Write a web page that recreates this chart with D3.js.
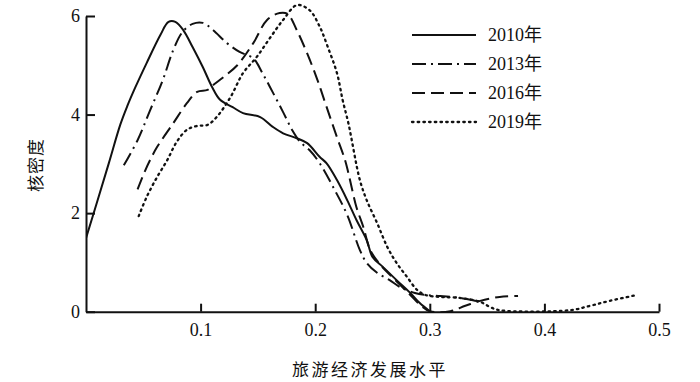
<!DOCTYPE html>
<html>
<head>
<meta charset="utf-8">
<script src="https://cdn.jsdelivr.net/npm/d3@7"></script>
<style>
html,body{margin:0;padding:0;background:#fff;}
svg{display:block;}
</style>
</head>
<body>
<svg id="chart" width="700" height="382"></svg>
<script>
// ---- data ----
const seriesNames = ["2010年", "2013年", "2016年", "2019年"];
const xTicks = [0.1, 0.2, 0.3, 0.4, 0.5];
const yTicks = [0, 2, 4, 6];
const xTitle = "旅游经济发展水平";
const yTitle = "核密度";

const s2010x = [0,0.010,0.020,0.030,0.036,0.043,0.053,0.065,0.072,0.078,0.085,0.093,0.102,0.110,0.117,0.128,0.137,0.152,0.163,0.172,0.184,0.193,0.204,0.210,0.219,0.228,0.236,0.245,0.250,0.259,0.271,0.283,0.291,0.300];
const s2010y = [1.49,2.25,3.02,3.80,4.17,4.55,5.05,5.62,5.88,5.88,5.71,5.37,4.96,4.56,4.30,4.15,4.03,3.95,3.75,3.62,3.52,3.42,3.14,3.01,2.67,2.26,1.86,1.45,1.11,0.91,0.64,0.38,0.18,0.01];

const s2013x = [0.033,0.045,0.056,0.067,0.076,0.084,0.093,0.102,0.111,0.123,0.134,0.146,0.154,0.163,0.172,0.180,0.187,0.195,0.204,0.217,0.228,0.239,0.245,0.254,0.265,0.274,0.287,0.296,0.309,0.326,0.344];
const s2013y = [2.97,3.48,4.09,4.70,5.30,5.67,5.84,5.86,5.71,5.45,5.27,5.14,4.84,4.45,4.05,3.68,3.44,3.28,3.01,2.47,1.96,1.25,0.99,0.79,0.64,0.50,0.38,0.34,0.32,0.28,0.20];

const s2016x = [0.045,0.051,0.056,0.062,0.076,0.088,0.097,0.106,0.111,0.120,0.132,0.146,0.158,0.169,0.176,0.184,0.193,0.202,0.210,0.219,0.226,0.229,0.236,0.242,0.248,0.257,0.270,0.283,0.291,0.300,0.318,0.331,0.344,0.361,0.377];
const s2016y = [2.48,2.83,3.08,3.34,3.82,4.23,4.46,4.50,4.60,4.76,5.00,5.45,5.92,6.06,6.04,5.71,5.24,4.70,4.15,3.54,3.08,2.81,2.12,1.72,1.25,0.95,0.64,0.34,0.15,0.01,0.01,0.12,0.22,0.30,0.32];

const s2019x = [0.046,0.053,0.062,0.071,0.079,0.088,0.097,0.106,0.114,0.126,0.137,0.149,0.161,0.172,0.184,0.195,0.204,0.211,0.219,0.224,0.229,0.239,0.245,0.254,0.263,0.271,0.280,0.289,0.296,0.309,0.326,0.344,0.353,0.361,0.422,0.440,0.457,0.481];
const s2019y = [1.94,2.33,2.73,3.08,3.44,3.69,3.77,3.79,3.95,4.35,4.84,5.17,5.57,5.92,6.22,6.12,5.78,5.37,4.84,4.29,3.82,2.67,2.26,1.80,1.31,0.99,0.71,0.44,0.34,0.30,0.28,0.20,0.09,0.03,0.03,0.12,0.22,0.34];

const seriesX = [s2010x, s2013x, s2016x, s2019x];
const seriesY = [s2010y, s2013y, s2016y, s2019y];
const dashes = [null, "14,5,2,5", "13,6", "1.5,4.2"];

// ---- chart ----
const svg = d3.select("#chart");
const x = d3.scaleLinear().domain([0, 0.5]).range([86, 659]);
const y = d3.scaleLinear().domain([0, 6]).range([311.7, 16]);
const ink = "#111";

svg.append("defs").append("clipPath").attr("id", "plotclip")
  .append("rect").attr("x", x(0)).attr("y", 0)
  .attr("width", x(0.5) - x(0) + 5).attr("height", y(0) + 1.2);

const line = d3.line()
  .x(d => x(d[0]))
  .y(d => y(d[1]))
  .curve(d3.curveCatmullRom.alpha(0.5));

const plot = svg.append("g").attr("clip-path", "url(#plotclip)");
seriesNames.forEach((name, i) => {
  const pts = seriesX[i].map((v, j) => [v, seriesY[i][j]]);
  plot.append("path")
    .datum(pts)
    .attr("d", line)
    .attr("fill", "none")
    .attr("stroke", ink)
    .attr("stroke-width", i === 3 ? 2.3 : 2)
    .attr("stroke-linecap", i === 3 ? "round" : "butt")
    .attr("stroke-dasharray", dashes[i]);
});

// axes
const xAxis = d3.axisBottom(x).tickValues(xTicks).tickSizeInner(-8).tickSizeOuter(0).tickPadding(12).tickFormat(d3.format(".1f"));
const yAxis = d3.axisLeft(y).tickValues(yTicks).tickSizeInner(-9).tickSizeOuter(0).tickPadding(6).tickFormat(d3.format("d"));

const gx = svg.append("g").attr("transform", `translate(0,${y(0)})`).call(xAxis);
const gy = svg.append("g").attr("transform", `translate(${x(0)},0)`).call(yAxis);
[gx, gy].forEach(g => {
  g.select(".domain").attr("stroke", ink).attr("stroke-width", 2);
  g.selectAll(".tick line").attr("stroke", ink).attr("stroke-width", 2);
  g.selectAll(".tick text").attr("fill", ink)
    .style("font-family", "'Liberation Serif','Times New Roman',serif")
    .style("font-size", "18px");
});
gx.selectAll(".tick text").attr("dy", "0.71em");

// titles
svg.append("text")
  .attr("x", 370).attr("y", 376)
  .attr("text-anchor", "middle")
  .style("font-family", "'Noto Sans CJK SC',sans-serif")
  .style("font-size", "17px")
  .style("letter-spacing", "2.5px")
  .attr("fill", ink)
  .text(xTitle);

svg.append("text")
  .attr("transform", "translate(42,165) rotate(-90)")
  .attr("text-anchor", "middle")
  .style("font-family", "'Noto Sans CJK SC',sans-serif")
  .style("font-size", "17px")
  .style("letter-spacing", "1px")
  .attr("fill", ink)
  .text(yTitle);

// legend
const legendY = [35, 64, 93, 122];
const lg = svg.append("g");
seriesNames.forEach((name, i) => {
  lg.append("line")
    .attr("x1", 412).attr("x2", 476)
    .attr("y1", legendY[i]).attr("y2", legendY[i])
    .attr("stroke", ink)
    .attr("stroke-width", i === 3 ? 2.3 : 2)
    .attr("stroke-linecap", i === 3 ? "round" : "butt")
    .attr("stroke-dasharray", dashes[i]);
  lg.append("text")
    .attr("x", 488).attr("y", legendY[i])
    .attr("dy", "0.35em")
    .style("font-family", "'Liberation Serif','Times New Roman','Noto Sans CJK SC',serif")
    .style("font-size", "18px")
    .attr("fill", ink)
    .text(name);
});
</script>
</body>
</html>
